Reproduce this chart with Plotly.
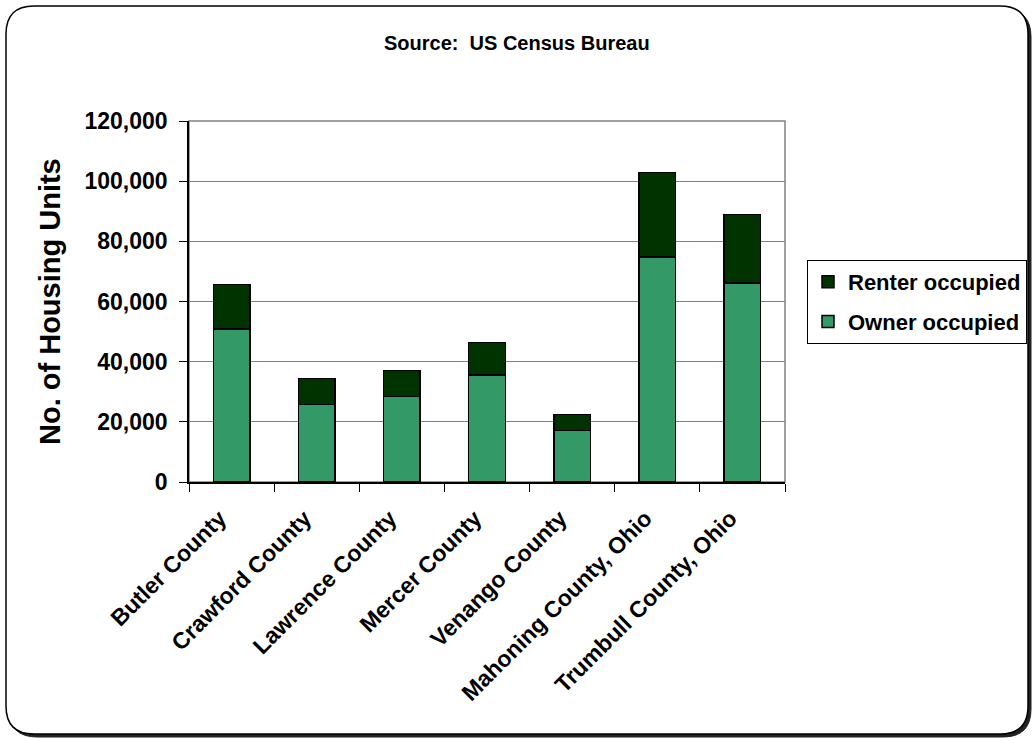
import plotly.graph_objects as go

counties = ["Butler County", "Crawford County", "Lawrence County", "Mercer County",
            "Venango County", "Mahoning County, Ohio", "Trumbull County, Ohio"]
owner_occupied = [50900, 25700, 28400, 35600, 17100, 74800, 66200]
renter_occupied = [14700, 8700, 8700, 10800, 5400, 28000, 22700]

W, H = 1034, 738
L, R, T, B = 189, 785, 121, 482

def px(X):
    return (X - L) / (R - L)

def py(Y):
    return (B - Y) / (B - T)

def rounded(x0, y0, x1, y1, r):
    pts = [
        f"M {px(x0 + r)},{py(y0)}",
        f"L {px(x1 - r)},{py(y0)}",
        f"Q {px(x1)},{py(y0)} {px(x1)},{py(y0 + r)}",
        f"L {px(x1)},{py(y1 - r)}",
        f"Q {px(x1)},{py(y1)} {px(x1 - r)},{py(y1)}",
        f"L {px(x0 + r)},{py(y1)}",
        f"Q {px(x0)},{py(y1)} {px(x0)},{py(y1 - r)}",
        f"L {px(x0)},{py(y0 + r)}",
        f"Q {px(x0)},{py(y0)} {px(x0 + r)},{py(y0)}",
        "Z",
    ]
    return " ".join(pts)

FONT = "Arial, 'Liberation Sans', sans-serif"

fig = go.Figure()
fig.add_trace(go.Bar(x=counties, y=owner_occupied, name="<b>Owner occupied</b>",
                     marker=dict(color="#339966", line=dict(color="black", width=1.5)),
                     legendgroup="o", legendrank=2))
fig.add_trace(go.Bar(x=counties, y=renter_occupied, name="<b>Renter occupied</b>",
                     marker=dict(color="#003300", line=dict(color="black", width=1.5)),
                     legendgroup="r", legendrank=1))

shapes = [
    dict(type="path", xref="paper", yref="paper", layer="below",
         path=rounded(9, 9, 1031, 737, 28), fillcolor="#222222",
         line=dict(color="#222222", width=1)),
    dict(type="path", xref="paper", yref="paper", layer="below",
         path=rounded(6, 6, 1028, 734, 28), fillcolor="white",
         line=dict(color="black", width=1.5)),
    dict(type="rect", xref="paper", yref="paper", layer="below",
         x0=0, x1=1, y0=0, y1=1, line=dict(color="#808080", width=1.5)),
]

annotations = [
    dict(text="<b>Source:  US Census Bureau</b>", xref="paper", yref="paper",
         x=px(517), y=py(43), xanchor="center", yanchor="middle", showarrow=False,
         font=dict(family=FONT, size=20, color="black")),
    dict(text="<b>No. of Housing Units</b>", xref="paper", yref="paper",
         x=px(50), y=py(302), xanchor="center", yanchor="middle", showarrow=False,
         textangle=-90, font=dict(family=FONT, size=29, color="black")),
]

fig.update_layout(
    width=W, height=H,
    margin=dict(l=L, r=W - R, t=T, b=H - B, autoexpand=False),
    paper_bgcolor="white", plot_bgcolor="white",
    barmode="stack", bargap=0.57,
    font=dict(family=FONT, color="black"),
    shapes=shapes, annotations=annotations,
    legend=dict(x=px(807), y=py(260), xanchor="left", yanchor="top",
                traceorder="grouped", tracegroupgap=8,
                bordercolor="black", borderwidth=1, bgcolor="white",
                font=dict(family=FONT, size=22, color="black"),
                itemclick=False),
    xaxis=dict(showline=True, linecolor="black", linewidth=1.5,
               ticks="outside", ticklen=8, tickcolor="black", tickson="boundaries",
               tickangle=-45, showgrid=False,
               ticklabelstandoff=12, ticklabelshift=-12,
               tickfont=dict(family=FONT, size=23, color="black"),
               tickprefix="<b>", ticksuffix="</b>"),
    yaxis=dict(range=[0, 120000], dtick=20000, tickformat=",",
               showline=True, linecolor="black", linewidth=1.5,
               ticks="outside", ticklen=8, tickcolor="black",
               showgrid=True, gridcolor="#808080", gridwidth=1, zeroline=False,
               ticklabelstandoff=7,
               tickfont=dict(family=FONT, size=23, color="black"),
               tickprefix="<b>", ticksuffix="</b>"),
)

fig.write_html("out.html")
